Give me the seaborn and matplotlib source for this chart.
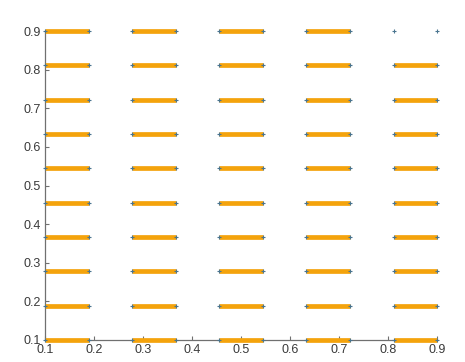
import matplotlib
matplotlib.use("Agg")
import matplotlib.pyplot as plt
import seaborn as sns
import pandas as pd

# Grid levels shared by both axes
levels = [0.1, 0.1889, 0.2778, 0.3667, 0.4556, 0.5444, 0.6333, 0.7222, 0.8111, 0.9]
# Segment start/end x positions along each row
seg_start = [0.1, 0.2778, 0.4556, 0.6333, 0.8111]
seg_end = [0.1889, 0.3667, 0.5444, 0.7222, 0.9]
# Number of drawn segments in each row (bottom to top)
segs_per_row = [5, 5, 5, 5, 5, 5, 5, 5, 5, 4]
tick_vals = [0.1, 0.2, 0.3, 0.4, 0.5, 0.6, 0.7, 0.8, 0.9]
tick_labels = ["0.1", "0.2", "0.3", "0.4", "0.5", "0.6", "0.7", "0.8", "0.9"]

sns.set_theme(style="white")
plt.rcParams["font.family"] = ["Liberation Sans", "DejaVu Sans"]

rows = []
uid = 0
for y, n in zip(levels, segs_per_row):
    for k in range(n):
        rows.append({"x": seg_start[k], "y": y, "seg": uid})
        rows.append({"x": seg_end[k], "y": y, "seg": uid})
        uid += 1
segments = pd.DataFrame(rows)

points = pd.DataFrame([{"x": x, "y": y} for y in levels for x in levels])

fig = plt.figure(figsize=(4.65, 3.62), dpi=100)
ax = fig.add_axes([0.097, 0.061, 0.843, 0.853])

sns.lineplot(data=segments, x="x", y="y", units="seg", estimator=None,
             color="#F4A30C", linewidth=3.4, sort=False, ax=ax,
             solid_capstyle="butt", zorder=2)
sns.scatterplot(data=points, x="x", y="y", marker="+", s=12,
                color="#4a7590", linewidth=0.8, ax=ax, zorder=3)

for art in ax.lines + ax.collections:
    art.set_clip_on(False)

ax.set_xlim(0.1, 0.9)
ax.set_ylim(0.1, 0.9)
ax.set_xticks(tick_vals)
ax.set_xticklabels(tick_labels)
ax.set_yticks(tick_vals)
ax.set_yticklabels(tick_labels)
ax.set_xlabel("")
ax.set_ylabel("")
for side in ("top", "right"):
    ax.spines[side].set_visible(False)
for side in ("left", "bottom"):
    ax.spines[side].set_color("#707070")
    ax.spines[side].set_linewidth(0.9)
    ax.spines[side].set_zorder(1)
ax.tick_params(direction="in", length=3, width=0.8, colors="#707070",
               labelcolor="#3a3a3a", labelsize=9, pad=3,
               bottom=True, left=True)

fig.savefig("out.png", dpi=100)
